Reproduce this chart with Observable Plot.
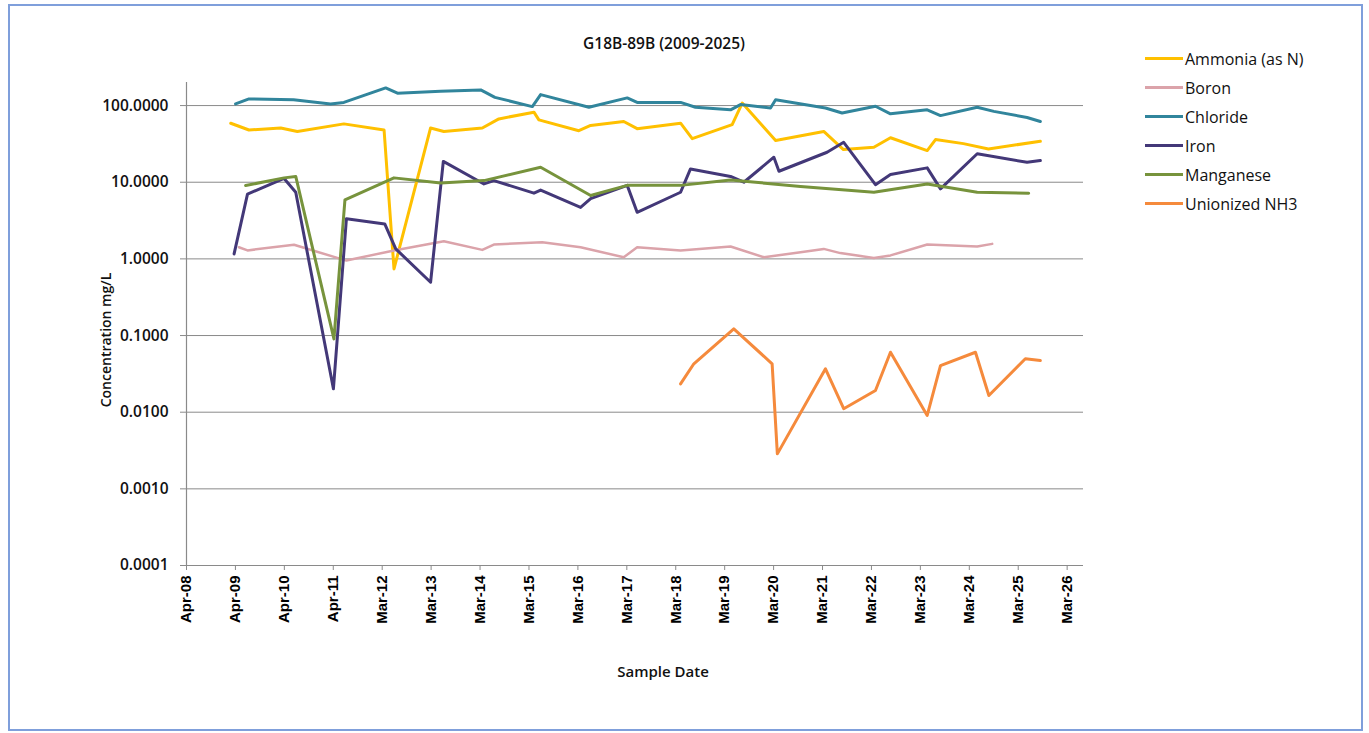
<!DOCTYPE html>
<html><head><meta charset="utf-8">
<script src="https://cdn.jsdelivr.net/npm/d3@7"></script>
<script src="https://cdn.jsdelivr.net/npm/@observablehq/plot@0.6"></script>
<style>
body{margin:0;background:#fff;width:1369px;height:733px;overflow:hidden;position:relative;font-family:"Open Sans",sans-serif;}
#frame{position:absolute;left:8px;top:4px;width:1351px;height:723px;border:2px solid #7f9fdb;}
#chart{position:absolute;left:0;top:0}
#title{position:absolute;left:464px;width:400px;top:32px;text-align:center;font:600 15.5px "Open Sans";color:#111}
#ytitle{position:absolute;left:105px;top:340px;transform:translate(-50%,-50%) rotate(-90deg);white-space:nowrap;font:600 14px "Open Sans";color:#111}
#xtitle{position:absolute;left:663px;top:671px;transform:translate(-50%,-50%);white-space:nowrap;font:600 15px "Open Sans";color:#111}
#legend{position:absolute;left:1145px;top:44px}
.item{height:29px;display:flex;align-items:center;font:16px "Open Sans";color:#111}
.swatch{width:38px;height:3px;margin-right:2px}
#chart g[aria-label="x-axis tick label"]{font:bold 15px "Liberation Sans",Arial,sans-serif;fill:#000}
#chart g[aria-label="y-axis tick label"]{font:600 15.5px "Open Sans",sans-serif;fill:#111}
</style></head>
<body>
<div id="frame"></div>
<div id="chart"></div>
<div id="title">G18B-89B (2009-2025)</div>
<div id="ytitle">Concentration mg/L</div>
<div id="xtitle">Sample Date</div>
<div id="legend"></div>
<script>
const seriesNames = ["Ammonia (as N)","Boron","Chloride","Iron","Manganese","Unionized NH3"];
const seriesColors = ["#FFC000","#DBA3AA","#31859C","#433878","#77933C","#F58A3C"];

const ammoniaDates = ["2009-02-25","2009-07-11","2010-03-05","2010-07-07","2011-06-19","2012-04-14","2012-06-27","2013-03-27","2013-07-04","2014-04-17","2014-08-18","2015-05-07","2015-06-13","2016-04-06","2016-07-03","2017-03-07","2017-06-15","2018-05-05","2018-07-31","2019-05-25","2019-08-08","2020-04-13","2021-04-07","2021-09-01","2022-04-16","2022-08-18","2023-05-19","2023-07-20","2024-02-13","2024-08-18","2025-09-09"];
const ammoniaValues = [58.8,48,51,46,57.7,48,0.74,51,46,51,67,82,65,47,55,62,50,59,37,56.5,108,35,46,26.7,28.6,38,25.9,36,31.9,27.2,34.2];

const boronDates = ["2009-04-27","2009-06-30","2010-06-12","2011-05-01","2011-07-08","2012-06-27","2013-07-04","2014-04-17","2014-07-12","2015-07-08","2016-04-19","2017-03-07","2017-06-15","2018-05-05","2019-05-13","2020-01-17","2020-10-16","2021-04-07","2021-08-09","2022-04-16","2022-08-18","2023-05-19","2024-05-26","2024-09-15"];
const boronValues = [1.42,1.29,1.53,1.03,0.95,1.29,1.70,1.31,1.54,1.65,1.42,1.05,1.42,1.29,1.45,1.05,1.22,1.35,1.19,1.03,1.11,1.54,1.45,1.57];

const chlorideDates = ["2009-04-02","2009-07-11","2010-06-09","2011-03-12","2011-06-19","2012-04-26","2012-07-23","2013-06-09","2014-04-05","2014-07-20","2015-04-25","2015-06-26","2016-06-20","2017-04-02","2017-06-15","2018-05-05","2018-08-24","2019-05-13","2019-07-26","2020-03-06","2020-04-13","2021-04-20","2021-08-22","2022-04-28","2022-08-18","2023-05-19","2023-08-26","2024-05-26","2024-09-27","2025-06-02","2025-09-09"];
const chlorideValues = [105,122,119,105,110,170,145,154,160,128,97,139,95,126,110,110,95,88,103,93,119,93,80,98,78,88,74,95,84,70,62];

const ironDates = ["2009-03-22","2009-06-30","2010-03-30","2010-06-25","2011-04-02","2011-07-08","2012-04-19","2012-07-10","2013-03-27","2013-06-30","2014-04-29","2014-07-12","2015-05-07","2015-06-26","2016-04-19","2016-07-03","2017-04-02","2017-06-15","2018-05-05","2018-07-18","2019-05-13","2019-08-20","2020-03-31","2020-05-08","2021-05-02","2021-09-03","2022-04-28","2022-08-18","2023-05-19","2023-08-26","2024-05-26","2025-06-02","2025-09-09"];
const ironValues = [1.16,7.0,11.2,7.4,0.0202,3.33,2.86,1.35,0.496,18.7,9.5,10.5,7.2,7.9,4.7,6.1,9.1,4.05,7.4,14.9,11.9,10,21.2,13.9,24.6,33.2,9.3,12.6,15.4,8.2,23.5,18.2,19.2];

const manganeseDates = ["2009-06-16","2010-03-30","2010-06-25","2011-04-06","2011-06-27","2012-06-27","2013-06-10","2014-04-29","2015-06-26","2016-07-03","2017-04-02","2018-05-05","2019-05-13","2020-10-16","2022-04-16","2023-05-19","2024-05-26","2025-06-14"];
const manganeseValues = [9.05,11.4,11.9,0.0905,5.9,11.4,9.8,10.5,15.7,6.7,9.1,9.1,10.7,8.8,7.4,9.5,7.4,7.2];

const nh3Dates = ["2018-05-05","2018-08-12","2019-06-06","2020-03-18","2020-04-26","2021-04-20","2021-09-03","2022-04-28","2022-08-18","2023-05-19","2023-08-26","2024-05-13","2024-08-21","2025-05-20","2025-09-09"];
const nh3Values = [0.0234,0.0428,0.122,0.0428,0.00286,0.0368,0.0111,0.0192,0.0605,0.00906,0.0406,0.0605,0.0165,0.0497,0.0472];

const xTickDates = ["2008-04-01","2009-04-01","2010-04-01","2011-04-01","2012-03-31","2013-03-31","2014-03-31","2015-03-31","2016-03-30","2017-03-30","2018-03-30","2019-03-30","2020-03-29","2021-03-29","2022-03-29","2023-03-29","2024-03-28","2025-03-28","2026-03-28"];
const xDomain = ["2008-04-01","2026-07-28"];
const yTicks = [0.0001,0.001,0.01,0.1,1,10,100];
const yDomain = [0.0001,200];

const parse = d3.utcParse("%Y-%m-%d");
const allDates = [ammoniaDates,boronDates,chlorideDates,ironDates,manganeseDates,nh3Dates];
const allValues = [ammoniaValues,boronValues,chlorideValues,ironValues,manganeseValues,nh3Values];
const series = seriesNames.map((name,i)=>({
  name, color: seriesColors[i],
  rows: allDates[i].map((d,j)=>({date: parse(d), value: allValues[i][j]}))
}));

const fmt = d3.utcFormat("%b-%y");
const chart = Plot.plot({
  width: 1369, height: 733,
  marginLeft: 186, marginRight: 286, marginTop: 82, marginBottom: 168,
  style: {background: "transparent", overflow: "visible"},
  x: {type: "utc", domain: xDomain.map(parse)},
  y: {type: "log", domain: yDomain},
  marks: [
    Plot.ruleY(yTicks.slice(1), {stroke: "#8a8a8a", strokeWidth: 1}),
    Plot.ruleY([yDomain[0]], {stroke: "#8a8a8a", strokeWidth: 1.2}),
    Plot.ruleX([parse(xDomain[0])], {stroke: "#8a8a8a", strokeWidth: 1.2}),
    Plot.axisY({ticks: yTicks, tickFormat: d => d.toFixed(4), tickSize: 6, tickPadding: 12, label: null, stroke: "#8a8a8a"}),
    Plot.axisX({ticks: xTickDates.map(parse), tickFormat: fmt, tickRotate: -90, tickSize: 5, tickPadding: 5, label: null, stroke: "#8a8a8a"}),
    ...series.map(s => Plot.line(s.rows, {x: "date", y: "value", stroke: s.color, strokeWidth: s.name === "Boron" ? 2.5 : 3}))
  ]
});
document.getElementById("chart").appendChild(chart);

const legend = document.getElementById("legend");
series.forEach(s => {
  const item = document.createElement("div");
  item.className = "item";
  const sw = document.createElement("div");
  sw.className = "swatch";
  sw.style.background = s.color;
  const t = document.createElement("span");
  t.textContent = s.name;
  item.appendChild(sw); item.appendChild(t);
  legend.appendChild(item);
});
</script>
</body></html>
